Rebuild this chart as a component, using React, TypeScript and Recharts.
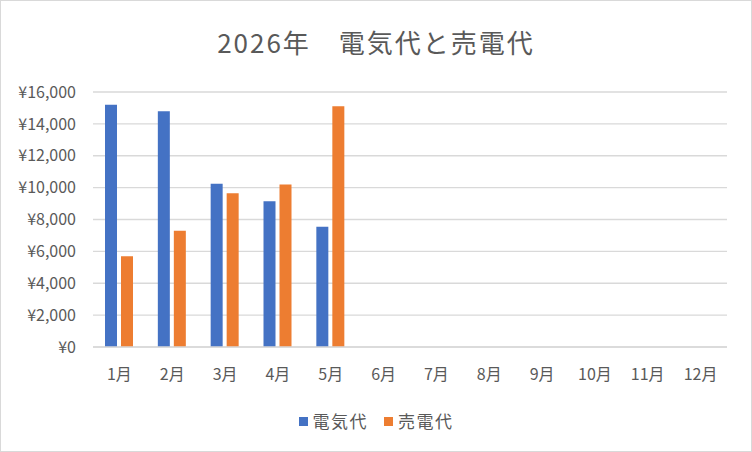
import { BarChart, Bar, XAxis, YAxis, CartesianGrid } from "recharts";

const months = ["1月", "2月", "3月", "4月", "5月", "6月", "7月", "8月", "9月", "10月", "11月", "12月"];
const electricity = [15200, 14800, 10250, 9150, 7550, null, null, null, null, null, null, null];
const sold = [5700, 7300, 9650, 10200, 15100, null, null, null, null, null, null, null];
const yTicks = [0, 2000, 4000, 6000, 8000, 10000, 12000, 14000, 16000];

const seriesNames = ["電気代", "売電代"];
const seriesColors = ["#4472c4", "#ed7d31"];

const data = months.map((m, i) => ({ month: m, electricity: electricity[i], sold: sold[i] }));

const font = "'Noto Sans CJK JP', sans-serif";
const textColor = "#595959";

export default function App() {
  return (
    <div
      style={{
        position: "absolute",
        left: 0,
        top: 0,
        width: 752,
        height: 452,
        boxSizing: "border-box",
        border: "1px solid #d9d9d9",
        background: "#fff",
        fontFamily: font,
      }}
    >
      <div
        style={{
          position: "absolute",
          left: 0,
          top: 23,
          width: 750,
          textAlign: "center",
          fontSize: 26,
          letterSpacing: 2,
          color: textColor,
          lineHeight: "36px",
        }}
      >
        2026年　電気代と売電代
      </div>

      <div style={{ position: "absolute", left: -1, top: -1 }}>
        <BarChart
          width={752}
          height={452}
          data={data}
          margin={{ top: 92, right: 25, bottom: 65, left: 0 }}
          barSize={12}
          barGap={4}
          style={{ fontFamily: font }}
        >
          <CartesianGrid vertical={false} stroke="#d9d9d9" strokeWidth={1.3} />
          <XAxis
            dataKey="month"
            height={40}
            tickSize={0}
            tickMargin={22}
            axisLine={{ stroke: "#d9d9d9", strokeWidth: 1.3 }}
            tickLine={false}
            tick={{ fontSize: 16, fill: textColor }}
            interval={0}
          />
          <YAxis
            width={93}
            domain={[0, 16000]}
            ticks={yTicks}
            tickSize={0}
            tickMargin={17}
            axisLine={false}
            tickLine={false}
            tick={{ fontSize: 16, fill: textColor }}
            tickFormatter={(v: number) => `¥${v.toLocaleString("en-US")}`}
          />
          <Bar dataKey="electricity" name={seriesNames[0]} fill={seriesColors[0]} isAnimationActive={false} />
          <Bar dataKey="sold" name={seriesNames[1]} fill={seriesColors[1]} isAnimationActive={false} />
        </BarChart>
      </div>

      <div
        style={{
          position: "absolute",
          left: 0,
          top: 406,
          width: 750,
          display: "flex",
          justifyContent: "center",
          gap: 16,
          fontSize: 17,
          letterSpacing: 1.5,
          color: textColor,
          lineHeight: "28px",
        }}
      >
        {seriesNames.map((name, i) => (
          <div key={name} style={{ display: "flex", alignItems: "center", gap: 5 }}>
            <span style={{ width: 9, height: 9, background: seriesColors[i], display: "inline-block" }} />
            <span>{name}</span>
          </div>
        ))}
      </div>
    </div>
  );
}
